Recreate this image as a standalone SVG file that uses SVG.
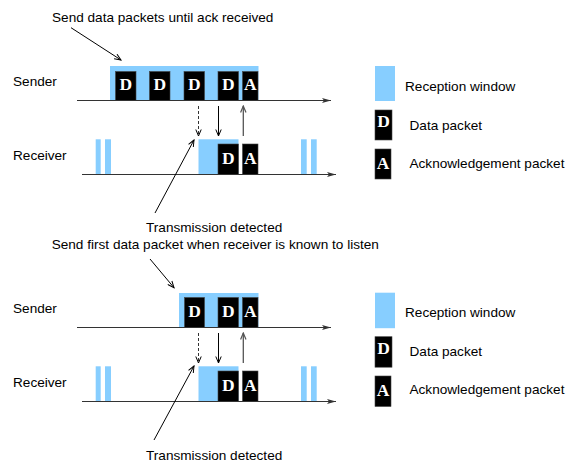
<svg xmlns="http://www.w3.org/2000/svg" width="573" height="471" viewBox="0 0 573 471">
<defs>
<style>
.t{font-family:"Liberation Sans",Arial,sans-serif;font-size:13.6px;fill:#000}
.l{font-family:"Liberation Serif","Times New Roman",serif;font-size:17.5px;font-weight:bold;fill:#fff;text-anchor:middle}
.win{fill:#87CEFF}
.pk{fill:#000;stroke:#444;stroke-width:0.6}
.ax{stroke:#333;stroke-width:1.2;fill:none}
.ar{stroke:#000;stroke-width:1;fill:none}
.dash{stroke:#333;stroke-width:1;stroke-dasharray:3,2;fill:none}
.up{stroke:#555;stroke-width:1.3;fill:none}
</style>
<marker id="axh" markerUnits="userSpaceOnUse" markerWidth="10" markerHeight="6" refX="9" refY="3" orient="auto" viewBox="0 0 10 6">
<path d="M0,0.5 L9,3 L0,5.5 L2,3 Z" fill="#333"/>
</marker>
<marker id="vh" markerUnits="userSpaceOnUse" markerWidth="8" markerHeight="7" refX="7" refY="3.5" orient="auto" viewBox="0 0 8 7">
<path d="M0.5,0.8 L7,3.5 L0.5,6.2" fill="none" stroke="#000" stroke-width="1"/>
</marker>
<marker id="vg" markerUnits="userSpaceOnUse" markerWidth="8" markerHeight="7" refX="7" refY="3.5" orient="auto" viewBox="0 0 8 7">
<path d="M0.5,0.8 L7,3.5 L0.5,6.2" fill="none" stroke="#555" stroke-width="1.2"/>
</marker>
</defs>

<!-- Top scenario -->
<g id="top-labels">
<text class="t" x="13" y="86">Sender</text>
<text class="t" x="13" y="160">Receiver</text>
<text class="t" x="52" y="21.7">Send data packets until ack received</text>
<text class="t" x="146" y="232.3">Transmission detected</text>
</g>
<g id="top-sender-window">
<rect class="win" x="110" y="66" width="148.5" height="34.5"/>
</g>
<g id="top-sender-packets">
<rect class="pk" x="115.5" y="71.5" width="20.5" height="29"/><text class="l" x="125.75" y="90.2">D</text>
<rect class="pk" x="149.5" y="71.5" width="20.5" height="29"/><text class="l" x="159.75" y="90.2">D</text>
<rect class="pk" x="184" y="71.5" width="20.5" height="29"/><text class="l" x="194.25" y="90.2">D</text>
<rect class="pk" x="218" y="71.5" width="20.5" height="29"/><text class="l" x="228.25" y="90.2">D</text>
<rect class="pk" x="242.5" y="71.5" width="15.5" height="29"/><text class="l" x="250.25" y="90.2">A</text>
</g>
<g id="top-receiver-windows">
<rect class="win" x="95.7" y="139.3" width="5" height="35"/>
<rect class="win" x="105" y="139.3" width="6" height="35"/>
<rect class="win" x="301" y="139.3" width="5.7" height="35"/>
<rect class="win" x="311" y="139.3" width="5.7" height="35"/>
<rect class="win" x="198.5" y="139.3" width="40" height="35"/>
</g>
<g id="top-receiver-packets">
<rect class="pk" x="218" y="144" width="20.5" height="30.5"/><text class="l" x="228.25" y="163.5">D</text>
<rect class="pk" x="242.5" y="144" width="15.5" height="30.5"/><text class="l" x="250.25" y="163.5">A</text>
</g>

<!-- Bottom scenario -->
<g id="bottom-labels">
<text class="t" x="13" y="313">Sender</text>
<text class="t" x="13" y="387">Receiver</text>
<text class="t" x="51.7" y="249">Send first data packet when receiver is known to listen</text>
<text class="t" x="146" y="460">Transmission detected</text>
</g>
<g id="bottom-sender-window">
<rect class="win" x="179" y="293" width="79.5" height="34.5"/>
</g>
<g id="bottom-sender-packets">
<rect class="pk" x="184.5" y="297.5" width="20" height="30"/><text class="l" x="194.5" y="316.8">D</text>
<rect class="pk" x="218" y="297.5" width="20.5" height="30"/><text class="l" x="228.25" y="316.8">D</text>
<rect class="pk" x="242.5" y="297.5" width="15.5" height="30"/><text class="l" x="250.25" y="316.8">A</text>
</g>
<g id="bottom-receiver-windows">
<rect class="win" x="95.7" y="366.3" width="5" height="35"/>
<rect class="win" x="105" y="366.3" width="6" height="35"/>
<rect class="win" x="301" y="366.3" width="5.7" height="35"/>
<rect class="win" x="311" y="366.3" width="5.7" height="35"/>
<rect class="win" x="198.5" y="366.3" width="40" height="35"/>
</g>
<g id="bottom-receiver-packets">
<rect class="pk" x="218" y="371" width="20.5" height="30.5"/><text class="l" x="228.25" y="390.5">D</text>
<rect class="pk" x="242.5" y="371" width="15.5" height="30.5"/><text class="l" x="250.25" y="390.5">A</text>
</g>

<!-- Legends -->
<g id="legend-top">
<rect class="win" x="375" y="66" width="20" height="35"/>
<text class="t" x="405" y="91">Reception window</text>
<rect class="pk" x="375" y="110" width="17" height="30"/><text class="l" x="383.5" y="127.3">D</text>
<text class="t" x="409.5" y="130">Data packet</text>
<rect class="pk" x="375" y="149" width="16" height="30"/><text class="l" x="383" y="169">A</text>
<text class="t" x="409.5" y="168">Acknowledgement packet</text>
</g>
<g id="legend-bottom">
<rect class="win" x="375" y="292.7" width="20" height="35.5"/>
<text class="t" x="405" y="316.7">Reception window</text>
<rect class="pk" x="375" y="336.7" width="17" height="30.5"/><text class="l" x="383.5" y="354">D</text>
<text class="t" x="409.5" y="356">Data packet</text>
<rect class="pk" x="375" y="376" width="16" height="30.5"/><text class="l" x="383" y="396">A</text>
<text class="t" x="409.5" y="394">Acknowledgement packet</text>
</g>

<!-- Connectors -->
<g id="connectors">
<line class="ax" x1="77" y1="100.5" x2="331" y2="100.5" marker-end="url(#axh)"/>
<line class="ax" x1="82" y1="174.5" x2="336" y2="174.5" marker-end="url(#axh)"/>
<line class="ax" x1="77" y1="327.5" x2="331" y2="327.5" marker-end="url(#axh)"/>
<line class="ax" x1="82" y1="401.5" x2="336" y2="401.5" marker-end="url(#axh)"/>

<line class="dash" x1="198.5" y1="106" x2="198.5" y2="136" marker-end="url(#vh)"/>
<line class="ar" x1="218.5" y1="106" x2="218.5" y2="136" marker-end="url(#vh)"/>
<line class="up" x1="243.3" y1="136" x2="243.3" y2="106" marker-end="url(#vg)"/>

<line class="dash" x1="198.5" y1="333" x2="198.5" y2="363" marker-end="url(#vh)"/>
<line class="ar" x1="218.5" y1="333" x2="218.5" y2="363" marker-end="url(#vh)"/>
<line class="up" x1="243.3" y1="363" x2="243.3" y2="333" marker-end="url(#vg)"/>

<line class="ar" x1="71" y1="27.7" x2="121" y2="60" marker-end="url(#vh)"/>
<line class="ar" x1="155" y1="213" x2="194" y2="140" marker-end="url(#vh)"/>
<line class="ar" x1="150" y1="259" x2="174" y2="287.7" marker-end="url(#vh)"/>
<line class="ar" x1="154" y1="440" x2="194" y2="366" marker-end="url(#vh)"/>
</g>
</svg>
